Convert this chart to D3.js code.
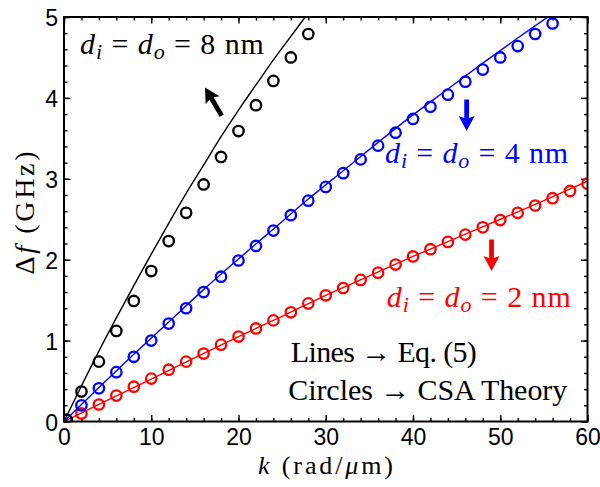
<!DOCTYPE html>
<html>
<head>
<meta charset="utf-8">
<script src="https://cdn.jsdelivr.net/npm/d3@7"></script>
<style>
  body { margin: 0; background: #fff; }
  svg { display: block; }
</style>
</head>
<body>
<script>
// tick values
const xTicks = [0, 10, 20, 30, 40, 50, 60];
const yTicks = [0, 1, 2, 3, 4, 5];

// circles -> CSA theory, k in rad/um, df in GHz
const kCircle8 = [0.3, 2, 4, 6, 8, 10, 12, 14, 16, 18, 20, 22, 24, 26, 28];
const fCircle8 = [0.02, 0.37, 0.74, 1.12, 1.49, 1.86, 2.23, 2.58, 2.93, 3.27, 3.59, 3.91, 4.21, 4.50, 4.79];

const kCircle4 = [0.3, 2, 4, 6, 8, 10, 12, 14, 16, 18, 20, 22, 24, 26, 28, 30, 32, 34, 36, 38, 40, 42, 44, 46, 48, 50, 52, 54, 56];
const fCircle4 = [0.02, 0.20, 0.41, 0.61, 0.80, 1.00, 1.21, 1.40, 1.60, 1.79, 1.99, 2.17, 2.36, 2.55, 2.73, 2.90, 3.07, 3.24, 3.41, 3.57, 3.74, 3.89, 4.04, 4.20, 4.35, 4.50, 4.64, 4.79, 4.92];

const kCircle2 = [2, 4, 6, 8, 10, 12, 14, 16, 18, 20, 22, 24, 26, 28, 30, 32, 34, 36, 38, 40, 42, 44, 46, 48, 50, 52, 54, 56, 58, 60];
const fCircle2 = [0.10, 0.21, 0.32, 0.43, 0.53, 0.64, 0.74, 0.84, 0.95, 1.05, 1.15, 1.25, 1.35, 1.46, 1.56, 1.65, 1.75, 1.84, 1.94, 2.04, 2.13, 2.22, 2.31, 2.40, 2.49, 2.58, 2.67, 2.76, 2.85, 2.94];

// lines -> Eq. (5)
const kLine8 = [0, 2, 4, 6, 8, 10, 12, 14, 16, 18, 20, 22, 24, 26, 28];
const fLine8 = [0, 0.44, 0.87, 1.28, 1.68, 2.07, 2.45, 2.82, 3.17, 3.52, 3.85, 4.16, 4.47, 4.76, 5.05];

const kLine4 = [0, 4, 8, 12, 16, 20, 24, 28, 32, 36, 40, 44, 48, 52, 56];
const fLine4 = [0, 0.42, 0.83, 1.23, 1.63, 2.01, 2.38, 2.75, 3.10, 3.45, 3.79, 4.11, 4.43, 4.74, 5.04];

const kLine2 = [0, 5, 10, 15, 20, 25, 30, 35, 40, 45, 50, 55, 60];
const fLine2 = [0, 0.265, 0.525, 0.79, 1.05, 1.30, 1.56, 1.80, 2.04, 2.27, 2.50, 2.73, 2.97];

const W = 600, H = 487;
const serif = "'Liberation Serif', 'Times New Roman', serif";
const sans = "'Liberation Sans', Arial, sans-serif";

const svg = d3.select("body").append("svg")
  .attr("width", W)
  .attr("height", H);

const x = d3.scaleLinear().domain([0, 60]).range([64, 587.5]);
const y = d3.scaleLinear().domain([0, 5]).range([421.5, 17]);

svg.append("clipPath").attr("id", "plot")
  .append("rect")
  .attr("x", x(0)).attr("y", y(5))
  .attr("width", x(60) - x(0)).attr("height", y(0) - y(5));

// ticks on all four sides, pointing inward
function ticks(axisFn, pos, major, minor, labels) {
  const sc = (axisFn === d3.axisBottom || axisFn === d3.axisTop) ? x : y;
  const g = svg.append("g").attr("transform", pos);
  g.append("g").call(axisFn(sc).tickValues(minor).tickSize(-3.5).tickFormat(""))
    .call(a => a.select(".domain").remove());
  const m = g.append("g").call(axisFn(sc)
      .tickValues(major).tickSize(-6.5).tickPadding(labels ? 9 : 0)
      .tickFormat(labels ? d3.format("d") : ""))
    .call(a => a.select(".domain").remove());
  g.selectAll("line").attr("stroke", "#000").attr("stroke-width", 1.4);
  m.selectAll("text").attr("font-family", sans).attr("font-size", 23).attr("fill", "#000");
  return m;
}
const xMinor = d3.range(0, 61, 2);
const yMinor = d3.range(0, 5.01, 0.2);
const bx = ticks(d3.axisBottom, `translate(0,${y(0)})`, xTicks, xMinor, true);
bx.selectAll("text").attr("y", 7).attr("dy", "0.71em");
ticks(d3.axisTop, `translate(0,${y(5)})`, xTicks, xMinor, false);
const ly = ticks(d3.axisLeft, `translate(${x(0)},0)`, yTicks, yMinor, true);
ly.selectAll("text").attr("dy", "0.38em").attr("x", -6);
ticks(d3.axisRight, `translate(${x(60)},0)`, yTicks, yMinor, false);

// lines and circles
const series = [
  { kl: kLine2, fl: fLine2, kc: kCircle2, fc: fCircle2, color: "#ff0000" },
  { kl: kLine4, fl: fLine4, kc: kCircle4, fc: fCircle4, color: "#0000ff" },
  { kl: kLine8, fl: fLine8, kc: kCircle8, fc: fCircle8, color: "#000000" }
];
const line = d3.line().x(d => x(d[0])).y(d => y(d[1])).curve(d3.curveMonotoneX);
const plot = svg.append("g").attr("clip-path", "url(#plot)");
series.forEach(s => {
  plot.append("path")
    .datum(d3.zip(s.kl, s.fl))
    .attr("fill", "none")
    .attr("stroke", s.color)
    .attr("stroke-width", 1.4)
    .attr("d", line);
  plot.selectAll(null)
    .data(d3.zip(s.kc, s.fc))
    .enter().append("circle")
    .attr("cx", d => x(d[0]))
    .attr("cy", d => y(d[1]))
    .attr("r", 5.2)
    .attr("fill", "none")
    .attr("stroke", s.color)
    .attr("stroke-width", 2.3);
});

// frame
svg.append("rect")
  .attr("x", x(0)).attr("y", y(5))
  .attr("width", x(60) - x(0)).attr("height", y(0) - y(5))
  .attr("fill", "none").attr("stroke", "#000").attr("stroke-width", 2);

// thick arrows, tail -> tip in data coords
function arrow(k0, f0, k1, f1, color) {
  const x0 = x(k0), y0 = y(f0), x1 = x(k1), y1 = y(f1);
  const len = Math.hypot(x1 - x0, y1 - y0);
  const ang = Math.atan2(y1 - y0, x1 - x0) * 180 / Math.PI;
  const sw = 2.4, hl = 15, hw = 8;
  const p = `M0,${-sw}L${len - hl + 2},${-sw}L${len - hl},${-hw}L${len},0L${len - hl},${hw}L${len - hl + 2},${sw}L0,${sw}Z`;
  svg.append("path")
    .attr("d", p)
    .attr("fill", color)
    .attr("transform", `translate(${x0},${y0}) rotate(${ang})`);
}
arrow(18.07, 3.78, 16.16, 4.13, "#000000");
arrow(46.15, 3.98, 46.15, 3.59, "#0000ff");
arrow(49.0, 2.25, 49.0, 1.86, "#ff0000");

// serif text with italic / subscript parts
function label(parent, parts, attrs, size) {
  const fs = size || 30;
  const t = parent.append("text")
    .attr("font-family", serif)
    .attr("font-size", fs)
    .attr("lengthAdjust", "spacing");
  Object.keys(attrs).forEach(a => t.attr(a, attrs[a]));
  let shift = 0;
  parts.forEach(p => {
    const ts = t.append("tspan").text(p.t);
    if (p.i) ts.attr("font-style", "italic");
    const want = p.sub ? 5 : 0;
    if (want !== shift) { ts.attr("dy", want - shift); shift = want; }
    if (p.sub) ts.attr("font-size", Math.round(fs * 0.72));
  });
  return t;
}
function dEq(n) {
  return [{ t: "d", i: 1 }, { t: "i", i: 1, sub: 1 }, { t: " = " }, { t: "d", i: 1 }, { t: "o", i: 1, sub: 1 }, { t: " = " + n + " nm" }];
}
label(svg, dEq(8), { x: x(1.83), y: y(4.54), fill: "#000", textLength: 184 });
label(svg, dEq(4), { x: x(36.8), y: y(3.19), fill: "#0000ff", textLength: 183 });
label(svg, dEq(2), { x: x(37.0), y: y(1.42), fill: "#ff0000", textLength: 184 });
label(svg, [{ t: "Lines → Eq. (5)" }], { x: x(26.0), y: y(0.735), fill: "#000", textLength: 186 });
label(svg, [{ t: "Circles → CSA Theory" }], { x: x(25.7), y: y(0.265), fill: "#000", textLength: 279 });

// axis titles
label(svg, [{ t: "k", i: 1 }, { t: " (rad/" }, { t: "μ", i: 1 }, { t: "m)" }],
  { x: 325.5, y: 474, "text-anchor": "middle", fill: "#000", textLength: 135 }, 26);
label(svg, [{ t: "Δ" }, { t: "f", i: 1 }, { t: " (GHz)" }],
  { transform: "translate(34,213) rotate(-90)", "text-anchor": "middle", fill: "#000", textLength: 123 }, 28);
</script>
</body>
</html>
